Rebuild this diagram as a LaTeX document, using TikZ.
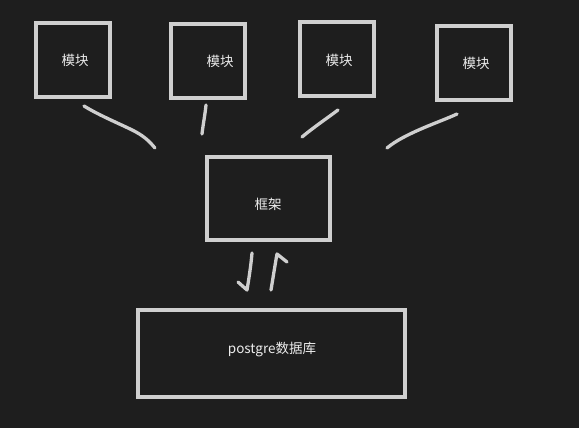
\documentclass[tikz,border=0pt]{standalone}
\usepackage{fontspec}
\setmainfont{Noto Sans CJK SC}
\begin{document}
\begin{tikzpicture}[x=1pt,y=-1pt,
  box/.style={draw=linec, line width=3.3pt, inner sep=0pt},
  stroke/.style={draw=linec, line width=3.3pt, line cap=round, line join=round},
  lbl/.style={text=textc, font=\fontsize{13.5}{15}\selectfont}]
\definecolor{bgc}{HTML}{1E1E1E}
\definecolor{linec}{HTML}{CFCFCF}
\definecolor{textc}{HTML}{EDEDED}
\fill[bgc] (0,0) rectangle (579,428);
\useasboundingbox (0,0) rectangle (579,428);
% module boxes
\draw[box] (36,23) rectangle (110,97);
\node[lbl] (m1) at (75,60) {模块};
\draw[box] (171,24) rectangle (245,98);
\node[lbl] (m2) at (220,61) {模块};
\draw[box] (300,22) rectangle (374,96);
\node[lbl] (m3) at (339,60) {模块};
\draw[box] (437,26) rectangle (511,100);
\node[lbl] (m4) at (476,63) {模块};
% framework
\draw[box] (207,157) rectangle (330,240);
\node[lbl] (fw) at (268,204) {框架};
% database
\draw[box] (138,310) rectangle (405,397);
\node[lbl] (db) at (272,350) {postgre数据库};
% connector end points
\coordinate (a1) at (84,106); \coordinate (b1) at (155,148);
\coordinate (a2) at (206,105); \coordinate (b2) at (202,134);
\coordinate (a3) at (338,110); \coordinate (b3) at (302,137);
\coordinate (a4) at (457,114); \coordinate (b4) at (387,148);
\draw[stroke] (a1) .. controls (100,116) and (125,126) .. (136,132) .. controls (145,137) and (150,142) .. (b1);
\draw[stroke] (a2) .. controls (205,115) and (203,125) .. (b2);
\draw[stroke] (a3) .. controls (326,119) and (314,127) .. (b3);
\draw[stroke] (a4) .. controls (440,122) and (405,133) .. (b4);
% arrows
\coordinate (d1) at (252,253); \coordinate (d2) at (247,290); \coordinate (d3) at (238,282);
\coordinate (u1) at (271,290); \coordinate (u2) at (277,254); \coordinate (u3) at (287,262);
\draw[stroke] (d1) .. controls (251,265) and (249,278) .. (d2) -- (d3);
\draw[stroke] (u1) .. controls (273,278) and (275,265) .. (u2) -- (u3);
\end{tikzpicture}
\end{document}
